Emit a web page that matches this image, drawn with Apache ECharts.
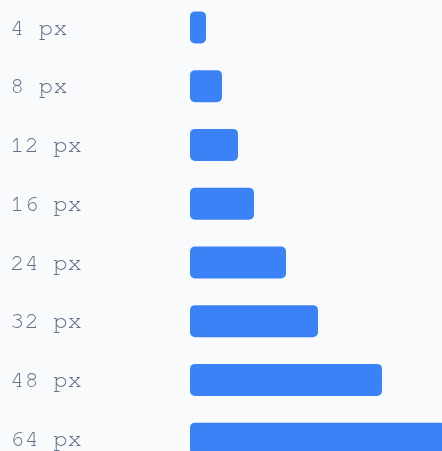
<!DOCTYPE html>
<html>
<head>
<meta charset="utf-8">
<script src="https://cdn.jsdelivr.net/npm/echarts@6/dist/echarts.min.js"></script>
<style>
  html, body { margin: 0; padding: 0; background: #f8fafc; overflow: hidden; }
  /* chart is a bit taller than the window: last row is cut off at the bottom */
  #chart { position: absolute; left: 0; top: -2px; width: 446px; height: 470px; }
</style>
</head>
<body>
<div id="chart"></div>
<script>
// bar widths in px, one row each
var sizes = [4, 8, 12, 16, 24, 32, 48, 64];
var labels = ["4 px", "8 px", "12 px", "16 px", "24 px", "32 px", "48 px", "64 px"];

var myChart = echarts.init(document.getElementById("chart"));
var option = {
  backgroundColor: "#f8fafc",
  animation: false,
  grid: {
    left: 190,
    top: 0,
    right: 0,
    bottom: 0
  },
  xAxis: {
    type: "value",
    min: 0,
    max: 64,
    show: false
  },
  yAxis: {
    type: "category",
    data: labels,
    inverse: true,
    axisLine: { show: false },
    axisTick: { show: false },
    splitLine: { show: false },
    axisLabel: {
      align: "left",
      margin: 180,
      color: "#64748b",
      fontSize: 24,
      fontFamily: "FreeMono, 'Courier New', monospace"
    }
  },
  series: [{
    type: "bar",
    data: sizes,
    barWidth: 32,
    itemStyle: {
      color: "#3b82f6",
      borderRadius: 5
    }
  }]
};
myChart.setOption(option);
</script>
</body>
</html>
